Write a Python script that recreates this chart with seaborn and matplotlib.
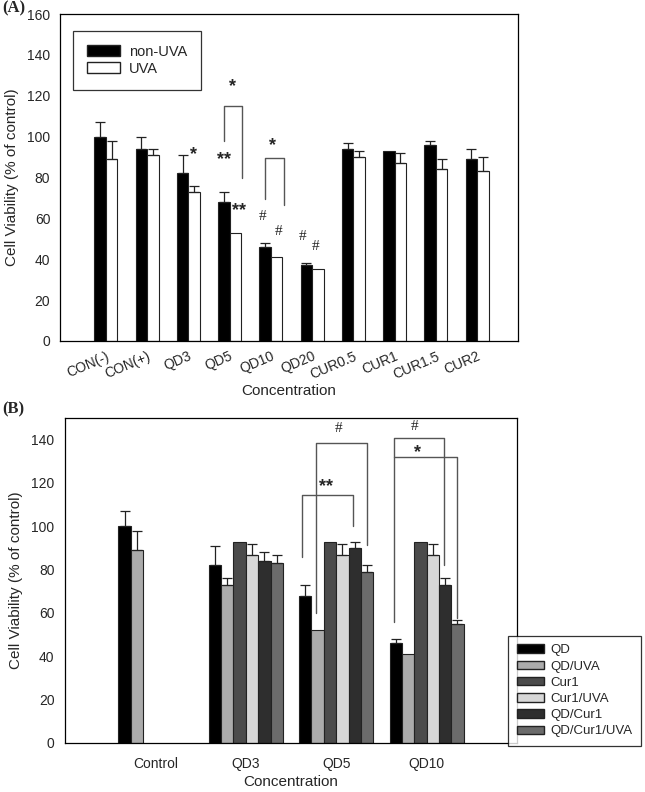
import numpy as np
import pandas as pd
import matplotlib
matplotlib.use("Agg")
import matplotlib.pyplot as plt
import seaborn as sns
from matplotlib.patches import Patch

# ---------------- data panel A ----------------
cats_a = ["CON(-)", "CON(+)", "QD3", "QD5", "QD10", "QD20", "CUR0.5", "CUR1", "CUR1.5", "CUR2"]
nonuva = [100, 94, 82, 68, 46, 37, 94, 93, 96, 89]
nonuva_err = [7, 6, 9, 5, 2, 1, 3, 0, 2, 5]
uva = [89, 91, 73, 53, 41, 35, 90, 87, 84, 83]
uva_err = [9, 3, 3, 0, 0, 0, 3, 5, 5, 7]
hues_a = ["non-UVA", "UVA"]

# ---------------- data panel B ----------------
cats_b = ["Control", "QD3", "QD5", "QD10"]
hues_b = ["QD", "QD/UVA", "Cur1", "Cur1/UVA", "QD/Cur1", "QD/Cur1/UVA"]
qd = [100, 82, 68, 46]
qd_err = [7, 9, 5, 2]
qd_uva = [89, 73, 52, 41]
qd_uva_err = [9, 3, 0, 0]
cur1 = [np.nan, 93, 93, 93]
cur1_err = [0, 0, 0, 0]
cur1_uva = [np.nan, 87, 87, 87]
cur1_uva_err = [0, 5, 5, 5]
qd_cur1 = [np.nan, 84, 90, 73]
qd_cur1_err = [0, 4, 3, 3]
qd_cur1_uva = [np.nan, 83, 79, 55]
qd_cur1_uva_err = [0, 4, 3, 2]

colors_b = ["#000000", "#ababab", "#4b4b4b", "#d7d7d7", "#2e2e2e", "#6b6b6b"]

sns.set_theme(style="white")
plt.rcParams["font.family"] = ["Liberation Sans", "DejaVu Sans"]
plt.rcParams["font.size"] = 10

fig = plt.figure(figsize=(6.45, 7.92), dpi=100)

star_font = ["Liberation Sans", "DejaVu Sans"]
hash_font = ["Liberation Serif", "DejaVu Serif"]
lc = "#555555"


def star(ax, x, y, s):
    ax.text(x, y, s, ha="center", va="center", fontsize=13, fontweight="bold",
            family=star_font)


def hsh(ax, x, y):
    ax.text(x, y, "#", ha="center", va="center", fontsize=11, family=hash_font)


# ======================= Panel A =======================
axA = fig.add_axes([60 / 645, 1 - 341 / 792, 458 / 645, 327 / 792])
dfa = pd.DataFrame({
    "cat": cats_a * 2,
    "grp": [hues_a[0]] * len(cats_a) + [hues_a[1]] * len(cats_a),
    "val": nonuva + uva,
    "err": nonuva_err + uva_err,
})
sns.barplot(data=dfa, x="cat", y="val", hue="grp", order=cats_a, hue_order=hues_a,
            palette=["black", "white"], width=0.56, errorbar=None, ax=axA,
            edgecolor="#222222", linewidth=0.8, legend=False)

for cont, h in zip(axA.containers, hues_a):
    sub = dfa[dfa.grp == h]
    for bar, (_, row) in zip(cont, sub.iterrows()):
        if row.err > 0:
            xc = bar.get_x() + bar.get_width() / 2
            axA.errorbar(xc, row.val, yerr=[[0], [row.err]], fmt="none",
                         ecolor="#222222", elinewidth=0.9, capsize=3.5, capthick=0.9)

axA.set_ylim(0, 160)
axA.set_xlim(-1.11, 9.99)
axA.set_yticks(np.arange(0, 161, 20))
axA.set_xticks(range(len(cats_a)))
axA.set_xticklabels(cats_a, rotation=23, ha="right", rotation_mode="anchor")
axA.tick_params(axis="both", direction="out", length=4, width=0.8, color="black",
                labelsize=10, pad=3)
axA.tick_params(axis="x", pad=2)
for s in axA.spines.values():
    s.set_color("black")
    s.set_linewidth(0.9)
axA.set_xlabel("Concentration", fontsize=11, labelpad=2)
axA.set_ylabel("Cell Viability (% of control)", fontsize=11, labelpad=6)

leg_a = axA.legend(handles=[Patch(facecolor="black", edgecolor="#222222", label="non-UVA"),
                            Patch(facecolor="white", edgecolor="#222222", label="UVA")],
                   loc="upper left", bbox_to_anchor=(0.028, 0.948), frameon=True,
                   fancybox=False, edgecolor="black", fontsize=10.5,
                   handlelength=2.3, handleheight=0.75, labelspacing=0.2,
                   borderpad=0.95, handletextpad=0.6, borderaxespad=0)
leg_a.get_frame().set_linewidth(0.9)

# annotations panel A
star(axA, 2.13, 91, "*")
star(axA, 2.86, 89, "**")
star(axA, 3.22, 64, "**")
axA.plot([2.86, 2.86, 3.29, 3.29], [97.8, 115, 115, 80], color=lc, lw=1)
star(axA, 3.07, 124.7, "*")
axA.plot([3.85, 3.85, 4.31, 4.31], [69.5, 89.5, 89.5, 66.5], color=lc, lw=1)
star(axA, 4.04, 95.4, "*")
for x, y in [(3.80, 60.7), (4.19, 53.8), (4.77, 50.9), (5.08, 46)]:
    hsh(axA, x, y)

# ======================= Panel B =======================
axB = fig.add_axes([65 / 645, 1 - 743 / 792, 452 / 645, 325 / 792])
vals_b = [qd, qd_uva, cur1, cur1_uva, qd_cur1, qd_cur1_uva]
errs_b = [qd_err, qd_uva_err, cur1_err, cur1_uva_err, qd_cur1_err, qd_cur1_uva_err]
rows = []
for h, v, e in zip(hues_b, vals_b, errs_b):
    for c, vv, ee in zip(cats_b, v, e):
        rows.append({"cat": c, "grp": h, "val": vv, "err": ee})
dfb = pd.DataFrame(rows)
sns.barplot(data=dfb, x="cat", y="val", hue="grp", order=cats_b, hue_order=hues_b,
            palette=colors_b, width=0.82, errorbar=None, ax=axB,
            edgecolor="#222222", linewidth=0.8, legend=False)

for cont, h in zip(axB.containers, hues_b):
    sub = dfb[(dfb.grp == h) & dfb.val.notna()]
    for bar, (_, row) in zip(cont, sub.iterrows()):
        if row.err > 0:
            xc = bar.get_x() + bar.get_width() / 2
            axB.errorbar(xc, row.val, yerr=[[0], [row.err]], fmt="none",
                         ecolor="#222222", elinewidth=0.9, capsize=3.5, capthick=0.9)

axB.set_ylim(0, 150)
axB.set_xlim(-1, 4)
axB.set_yticks(np.arange(0, 141, 20))
axB.set_xticks(range(len(cats_b)))
axB.set_xticklabels(cats_b)
axB.tick_params(axis="y", direction="out", length=4, width=0.8, color="black", labelsize=10)
axB.tick_params(axis="x", length=0, labelsize=10, pad=10)
for s in axB.spines.values():
    s.set_color("black")
    s.set_linewidth(0.9)
axB.set_xlabel("Concentration", fontsize=11, labelpad=3)
axB.set_ylabel("Cell Viability (% of control)", fontsize=11, labelpad=6)

leg_b = axB.legend(handles=[Patch(facecolor=c, edgecolor="#222222", label=h)
                            for c, h in zip(colors_b, hues_b)],
                   loc="upper left", bbox_to_anchor=(0.98, 0.33), frameon=True,
                   fancybox=False, edgecolor="black", fontsize=9.5,
                   handlelength=2.1, handleheight=0.6, labelspacing=0.32,
                   borderpad=0.65, handletextpad=0.45, borderaxespad=0)
leg_b.get_frame().set_linewidth(0.9)
leg_b.set_clip_on(False)

# annotations panel B
axB.plot([1.617, 1.617, 2.186, 2.186], [86, 114.6, 114.6, 100], color=lc, lw=1)
star(axB, 1.885, 118.5, "**")
axB.plot([1.775, 1.775, 2.345, 2.345], [60, 138.6, 138.6, 91.2], color=lc, lw=1)
hsh(axB, 2.03, 145)
axB.plot([2.638, 2.638, 3.19, 3.19], [56, 140.8, 140.8, 82], color=lc, lw=1)
hsh(axB, 2.867, 146.2)
axB.plot([2.638, 3.333, 3.333], [132, 132, 57.6], color=lc, lw=1)
star(axB, 2.90, 134, "*")

# panel labels
fig.text(2 / 645, 1 - 8 / 792, "(A)", fontsize=12, fontweight="bold",
         family=["Liberation Serif", "DejaVu Serif"], va="center", ha="left")
fig.text(2 / 645, 1 - 409 / 792, "(B)", fontsize=12, fontweight="bold",
         family=["Liberation Serif", "DejaVu Serif"], va="center", ha="left")

fig.savefig("out.png", dpi=100)
